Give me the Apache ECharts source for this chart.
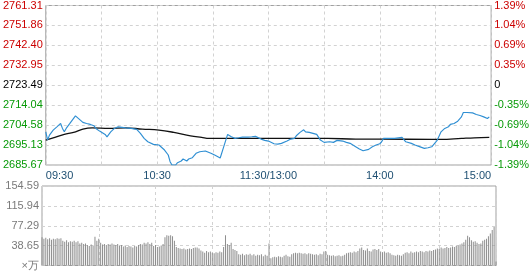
<!DOCTYPE html>
<html>
<head>
<meta charset="utf-8">
<script src="https://cdn.jsdelivr.net/npm/echarts@6/dist/echarts.min.js"></script>
<style>
html,body{margin:0;padding:0;background:#fff;}
#c{width:532px;height:271px;}
</style>
</head>
<body>
<div id="c"></div>
<script>
// ---- tick labels ----
const priceAxisLabels = ['2685.67','2695.13','2704.58','2714.04','2723.49','2732.95','2742.40','2751.86','2761.31'];
const pctAxisLabels = ['-1.39%','-1.04%','-0.69%','-0.35%','0','0.35%','0.69%','1.04%','1.39%'];
const volAxisLabels = ['×万','38.65','77.29','115.94','154.59'];
const timeTickMinutes = [0, 60, 120, 180, 240];
const timeTickLabels = ['09:30','10:30','11:30/13:00','14:00','15:00'];
const priceMin = 2685.67, priceMax = 2761.31, volMax = 154.59;

// ---- price line (minute from 09:30, price) ----
const priceMinutes = [0,1,2,4,6,8,9,10,11,13,16,18,20,22,24,26,27,29,32,33,35,37,39,40,43,46,49,51,53,55,58,61,62,64,66,67,68,70,71,73,74,76,77,79,81,83,84,86,89,91,94,96,98,100,102,104,106,107,109,111,113,114,116,118,120,121,123,125,127,128,130,132,134,135,137,139,140,142,143,144,146,148,150,151,153,155,157,158,160,162,164,165,167,169,171,172,174,176,178,180,181,182,185,188,192,194,195,197,199,201,202,204,206,208,209,211,213,215,217,218,220,222,224,225,227,230,232,234,236,238,239];
const priceValues = [2701.41,2697.49,2699.85,2702.22,2703.78,2705.38,2703.02,2701.41,2703.02,2705.38,2708.98,2707.42,2705.86,2705.38,2704.91,2704.25,2703.02,2701.74,2700.18,2699.05,2701.41,2703.02,2703.78,2703.49,2703.30,2703.02,2702.55,2700.66,2698.29,2696.69,2695.46,2695.13,2694.32,2692.76,2690.40,2687.23,2685.67,2685.67,2686.76,2687.56,2688.51,2687.56,2688.51,2689.12,2691.20,2691.96,2691.96,2692.29,2691.20,2690.40,2688.98,2694.65,2700.18,2699.05,2698.29,2698.58,2698.91,2699.52,2698.91,2699.05,2699.24,2698.58,2697.96,2697.35,2697.02,2696.21,2695.74,2695.60,2695.93,2696.40,2697.02,2697.96,2698.29,2699.52,2701.13,2702.36,2701.41,2701.13,2701.74,2700.66,2700.18,2697.49,2696.40,2695.93,2696.69,2696.40,2697.35,2696.69,2697.02,2696.40,2695.93,2695.46,2694.32,2693.23,2692.43,2692.29,2693.09,2694.32,2695.13,2695.74,2696.69,2698.29,2698.29,2698.29,2698.77,2696.69,2696.40,2695.93,2695.13,2694.51,2693.85,2693.56,2693.85,2694.32,2695.13,2697.49,2701.41,2703.02,2703.78,2704.91,2705.38,2706.47,2708.50,2710.58,2710.58,2710.39,2709.64,2709.17,2708.50,2707.75,2708.50];

// ---- average price line ----
const avgMinutes = [0,4,10,15,20,25,34,43,52,61,69,78,84,88,120,152,167,181,208,213,224,231,239];
const avgValues = [2697.49,2698.58,2700.18,2701.13,2702.69,2703.30,2703.02,2703.30,2702.69,2702.22,2701.13,2699.52,2698.77,2698.29,2698.29,2698.29,2697.96,2697.96,2697.82,2697.82,2698.29,2698.58,2698.77];

// ---- volume per minute (×万), minute 0..240 ----
const volumes = [
 55,52,54,51,53,50,52,51,53,52,53,48,
 46,49,45,47,46,48,45,47,43,44,42,43,
 40,38,41,39,56,48,52,44,41,42,40,42,
 41,43,41,40,42,39,40,37,39,36,38,37,
 35,38,37,40,42,41,44,43,45,42,44,38,
 40,36,37,39,42,55,59,58,59,57,48,36,
 34,33,32,33,31,32,33,32,34,35,35,33,
 29,27,25,28,26,27,25,24,26,25,27,26,
 36,59,42,40,44,32,30,28,22,21,23,20,
 22,21,23,20,22,19,21,20,22,18,21,19,
 43,14,16,17,16,18,17,16,19,21,18,17,
 22,24,25,24,25,24,23,24,22,24,23,22,
 21,22,20,23,22,27,28,21,20,19,20,18,
 19,20,18,19,21,24,25,26,25,27,26,28,
 33,35,30,29,33,28,27,31,32,30,32,27,
 26,27,25,26,24,21,20,19,21,20,19,22,
 25,26,24,27,25,26,27,26,28,27,26,28,
 27,29,28,30,31,33,32,35,33,34,36,34,
 35,37,36,38,39,41,43,45,50,58,55,49,
 46,47,44,42,43,48,50,52,57,62,69,75,
 8
];

const RED = '#cc0000', GREEN = '#079a07', BLACK = '#000';
const FONT = 'Liberation Sans, Arial, sans-serif';
const dashed = {show:true, lineStyle:{color:'#d2d2d2', type:[3,3], width:1}};

const chart = echarts.init(document.getElementById('c'), null, {renderer:'canvas'});
chart.setOption({
  animation:false,
  backgroundColor:'#fff',
  grid:[
    {left:42, width:454, top:5, height:160, show:true, borderColor:'#a0a0a0', borderWidth:1},
    {left:42, width:454, top:186, height:80, show:true, borderColor:'#a0a0a0', borderWidth:1}
  ],
  xAxis:[
    {type:'value', gridIndex:0, min:0, max:240, interval:30,
     axisLine:{show:false}, axisTick:{show:false}, splitLine:dashed,
     axisLabel:{fontFamily:FONT, fontSize:11, color:'#1e4f72', margin:5,
       alignMinLabel:'left', alignMaxLabel:'right',
       formatter:(v)=>{const k=timeTickMinutes.indexOf(v); return k>=0?timeTickLabels[k]:'';}}},
    {type:'value', gridIndex:1, min:0, max:240, interval:30,
     axisLine:{show:false}, axisTick:{show:false}, splitLine:dashed, axisLabel:{show:false}}
  ],
  yAxis:[
    {type:'value', gridIndex:0, min:priceMin, max:priceMax, show:false},
    {type:'category', gridIndex:0, position:'left', data:priceAxisLabels, boundaryGap:false,
     axisLine:{show:false}, axisTick:{show:false}, splitLine:dashed,
     axisLabel:{fontFamily:FONT, fontSize:11, margin:3,
       color:(v,i)=> i<4?GREEN:(i===4?BLACK:RED)}},
    {type:'category', gridIndex:0, position:'right', data:pctAxisLabels, boundaryGap:false,
     axisLine:{show:false}, axisTick:{show:false}, splitLine:{show:false},
     axisLabel:{fontFamily:FONT, fontSize:11, margin:3,
       color:(v,i)=> i<4?GREEN:(i===4?BLACK:RED)}},
    {type:'value', gridIndex:1, min:0, max:volMax, show:false},
    {type:'category', gridIndex:1, position:'left', data:volAxisLabels, boundaryGap:false,
     axisLine:{show:false}, axisTick:{show:false}, splitLine:dashed,
     axisLabel:{fontFamily:FONT, fontSize:11, margin:3, color:'#7a7a7a'}}
  ],
  series:[
    {type:'bar', xAxisIndex:1, yAxisIndex:3, barWidth:1, silent:true,
     itemStyle:{color:'#8e8e8e'},
     data: volumes.map((v,i)=>[i,v])},
    {type:'line', xAxisIndex:0, yAxisIndex:0, showSymbol:false, smooth:0.4, silent:true,
     lineStyle:{color:'#111', width:1.3},
     data: avgMinutes.map((m,i)=>[m, avgValues[i]])},
    {type:'line', xAxisIndex:0, yAxisIndex:0, showSymbol:false, silent:true,
     lineStyle:{color:'#2f8fd3', width:1.15},
     data: priceMinutes.map((m,i)=>[m, priceValues[i]])}
  ]
});
</script>
</body>
</html>
